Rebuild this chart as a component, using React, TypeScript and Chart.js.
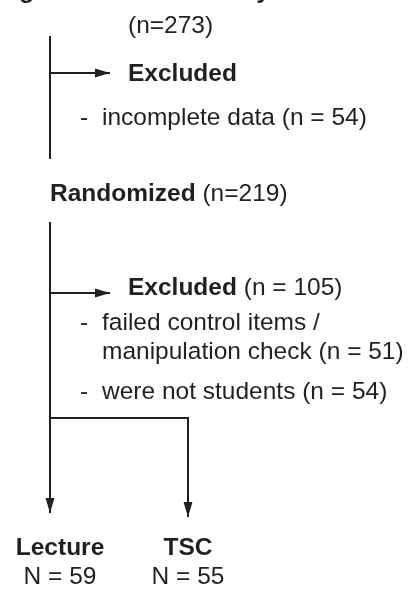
import React, { useEffect, useRef } from "react";
import { Chart, registerables } from "chart.js";

Chart.register(...registerables);

// ---- Flow lines (points in diagram units: x right, y down) ----
const screeningLine = [{ x: 50, y: 36 }, { x: 50, y: 159 }];
const exclusionArrow1 = [{ x: 50, y: 73 }, { x: 110, y: 73 }];
const randomizedLine = [{ x: 50, y: 222 }, { x: 50, y: 513 }];
const exclusionArrow2 = [{ x: 50, y: 293 }, { x: 110, y: 293 }];
const tscBranch = [{ x: 50, y: 418 }, { x: 188, y: 418 }, { x: 188, y: 517 }];

// ---- Text labels: [text, bold] parts ----
type Part = [string, boolean];
const headerLabels: { x: number; y: number; parts: Part[]; align?: CanvasTextAlign }[] = [
  { x: -12, y: -2, parts: [["Registered for the study", true]] },
  { x: 128, y: 33, parts: [["(n=273)", false]] },
  { x: 50, y: 201, parts: [["Randomized", true], [" (n=219)", false]] },
];
const exclusionLabels: { x: number; y: number; parts: Part[]; align?: CanvasTextAlign }[] = [
  { x: 128, y: 81, parts: [["Excluded", true]] },
  { x: 80, y: 125, parts: [["-", false]] },
  { x: 102, y: 125, parts: [["incomplete data (n = 54)", false]] },
  { x: 128, y: 295, parts: [["Excluded", true], [" (n = 105)", false]] },
  { x: 80, y: 330, parts: [["-", false]] },
  { x: 102, y: 330, parts: [["failed control items /", false]] },
  { x: 102, y: 359, parts: [["manipulation check (n = 51)", false]] },
  { x: 80, y: 399, parts: [["-", false]] },
  { x: 102, y: 399, parts: [["were not students (n = 54)", false]] },
];
const groupNames = ["Lecture", "TSC"];
const groupCounts = ["N = 59", "N = 55"];
const groupCenters = [60, 188];
const groupNameY = 555;
const groupCountY = 584;

const INK = "#231f20";
const FONT_SIZE = 24.5;
const FAMILY = '"Liberation Sans", Arial, Helvetica, sans-serif';

const flowPlugin = {
  id: "flowPlugin",
  afterDatasetsDraw(chart: any) {
    const ctx: CanvasRenderingContext2D = chart.ctx;
    const xs = chart.scales.x;
    const ys = chart.scales.y;
    ctx.save();
    // arrowheads
    chart.data.datasets.forEach((ds: any, i: number) => {
      if (!ds.arrow) return;
      const meta = chart.getDatasetMeta(i);
      const pts = meta.data;
      const a = pts[pts.length - 2];
      const b = pts[pts.length - 1];
      const ang = Math.atan2(b.y - a.y, b.x - a.x);
      const len = 15;
      const half = 4.5;
      ctx.fillStyle = INK;
      ctx.beginPath();
      ctx.moveTo(b.x, b.y);
      ctx.lineTo(
        b.x - len * Math.cos(ang) - half * Math.sin(ang),
        b.y - len * Math.sin(ang) + half * Math.cos(ang)
      );
      ctx.lineTo(
        b.x - len * Math.cos(ang) + half * Math.sin(ang),
        b.y - len * Math.sin(ang) - half * Math.cos(ang)
      );
      ctx.closePath();
      ctx.fill();
    });
    // text
    ctx.fillStyle = INK;
    ctx.textBaseline = "alphabetic";
    const drawParts = (x: number, y: number, parts: Part[], align: CanvasTextAlign = "left") => {
      let total = 0;
      parts.forEach(([t, b]) => {
        ctx.font = `${b ? "bold " : ""}${FONT_SIZE}px ${FAMILY}`;
        total += ctx.measureText(t).width;
      });
      let px = xs.getPixelForValue(x);
      const py = ys.getPixelForValue(y);
      if (align === "center") px -= total / 2;
      ctx.textAlign = "left";
      parts.forEach(([t, b]) => {
        ctx.font = `${b ? "bold " : ""}${FONT_SIZE}px ${FAMILY}`;
        ctx.fillText(t, px, py);
        px += ctx.measureText(t).width;
      });
    };
    [...headerLabels, ...exclusionLabels].forEach((l) => drawParts(l.x, l.y, l.parts, l.align));
    groupNames.forEach((n, i) => drawParts(groupCenters[i], groupNameY, [[n, true]], "center"));
    groupCounts.forEach((n, i) => drawParts(groupCenters[i], groupCountY, [[n, false]], "center"));
    ctx.restore();
  },
};

export default function App() {
  const ref = useRef<HTMLCanvasElement>(null);
  useEffect(() => {
    if (!ref.current) return;
    const line = (data: { x: number; y: number }[], arrow: boolean) => ({
      data,
      showLine: true,
      borderColor: INK,
      borderWidth: 2,
      pointRadius: 0,
      borderCapStyle: "butt",
      borderJoinStyle: "miter",
      tension: 0,
      clip: false,
      arrow,
    });
    const chart = new Chart(ref.current, {
      type: "scatter",
      data: {
        datasets: [
          line(screeningLine, false),
          line(exclusionArrow1, true),
          line(randomizedLine, true),
          line(exclusionArrow2, true),
          line(tscBranch, true),
        ] as any,
      },
      options: {
        animation: false,
        responsive: false,
        devicePixelRatio: 1,
        layout: { padding: 0 },
        events: [],
        plugins: { legend: { display: false }, tooltip: { enabled: false } },
        scales: {
          x: { type: "linear", min: 0, max: 410, display: false },
          y: { type: "linear", min: 0, max: 589, reverse: true, display: false },
        },
      },
      plugins: [flowPlugin],
    });
    return () => chart.destroy();
  }, []);
  return (
    <div style={{ position: "absolute", left: 0, top: 0, width: 410, height: 589, background: "#fff" }}>
      <canvas ref={ref} width={410} height={589} style={{ display: "block" }} />
    </div>
  );
}
